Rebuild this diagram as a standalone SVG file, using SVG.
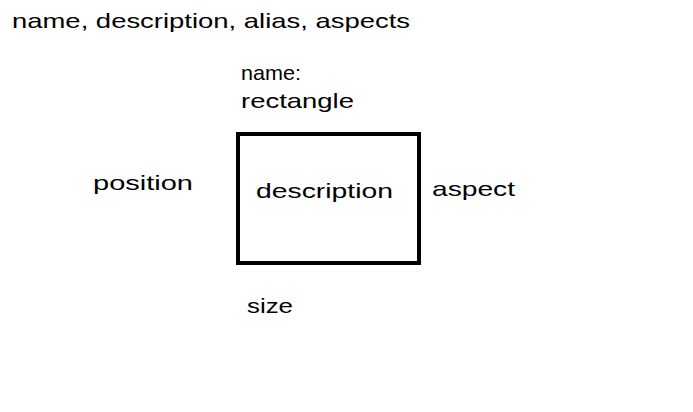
<svg xmlns="http://www.w3.org/2000/svg" width="693" height="412" viewBox="0 0 693 412">
<style>
text{font-family:"Liberation Sans",Arial,sans-serif;font-size:21px;fill:#000}
.box{fill:#fff;stroke:#000;stroke-width:4}
</style>
<rect width="693" height="412" fill="#fff"/>
<text x="12" y="28" textLength="398" lengthAdjust="spacingAndGlyphs">name, description, alias, aspects</text>
<g id="rectangle">
<rect class="box" x="238" y="134" width="181" height="129"/>
<text x="256" y="198" textLength="137" lengthAdjust="spacingAndGlyphs">description</text>
</g>
<g id="name">
<text x="241" y="80" textLength="60" lengthAdjust="spacingAndGlyphs">name:</text>
<text x="241" y="108" textLength="113" lengthAdjust="spacingAndGlyphs">rectangle</text>
</g>
<g id="position"><text x="93" y="190" textLength="100" lengthAdjust="spacingAndGlyphs">position</text></g>
<g id="aspect"><text x="432" y="196" textLength="83" lengthAdjust="spacingAndGlyphs">aspect</text></g>
<g id="size"><text x="247" y="313" textLength="46" lengthAdjust="spacingAndGlyphs">size</text></g>
<g id="connectors"></g>
</svg>
